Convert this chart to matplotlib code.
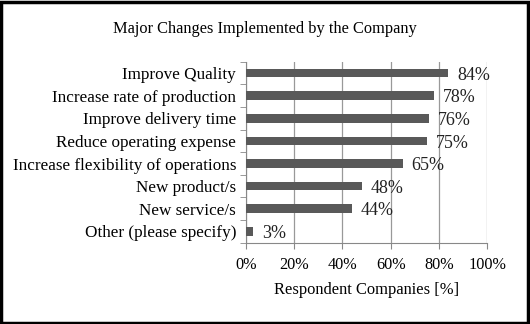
import matplotlib
matplotlib.use("Agg")
import matplotlib.pyplot as plt
from matplotlib.patches import Rectangle

categories = ["Improve Quality", "Increase rate of production", "Improve delivery time",
              "Reduce operating expense", "Increase flexibility of operations",
              "New product/s", "New service/s", "Other (please specify)"]
values = [84, 78, 76, 75, 65, 48, 44, 3]
xticks = [0, 20, 40, 60, 80, 100]
xticklabels = ["0%", "20%", "40%", "60%", "80%", "100%"]

plt.rcParams['font.family'] = ['Liberation Serif', 'DejaVu Serif']

fig = plt.figure(figsize=(5.3, 3.24), dpi=100)
ax = fig.add_axes([0.464, 0.251, 0.455, 0.558])

ypos = list(range(len(categories)))[::-1]
ax.barh(ypos, values, height=0.38, color="#595959", zorder=3)
for y, v in zip(ypos, values):
    ax.annotate(f"{v}%", (v, y), xytext=(6.5, -1.5), textcoords="offset points",
                va="center", ha="left", fontsize=13, color="#222222")

ax.set_xlim(0, 100)
ax.set_ylim(-0.5, len(categories) - 0.5)
ax.set_xticks(xticks)
ax.set_xticklabels(xticklabels, fontsize=11.7)
ax.set_yticks(ypos)
ax.set_yticklabels(categories, fontsize=12.3)
ax.set_yticks([i + 0.5 for i in range(-1, len(categories))], minor=True)
ax.tick_params(axis='y', which='major', length=0, pad=7)
ax.tick_params(axis='y', which='minor', length=4, color="#888888", direction='out')
ax.tick_params(axis='x', length=4, color="#888888", direction='out', pad=6)
ax.grid(axis='x', color="#999999", linewidth=0.9, zorder=0)
for s in ['top', 'right']:
    ax.spines[s].set_visible(False)
for s in ['left', 'bottom']:
    ax.spines[s].set_color("#888888")
ax.set_xlabel("Respondent Companies [%]", fontsize=11.9, labelpad=7)

fig.text(0.5, 0.91, "Major Changes Implemented by the Company", ha="center", va="center", fontsize=11.8)
fig.patches.append(Rectangle((0.002, 0.003), 0.994, 0.992, transform=fig.transFigure,
                             fill=False, edgecolor="black", linewidth=2.5))
fig.savefig("out.png", dpi=100)
